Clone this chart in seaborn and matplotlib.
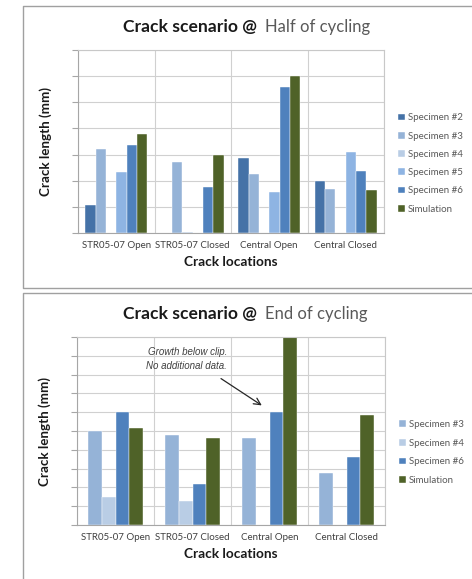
import pandas as pd
import seaborn as sns
import matplotlib.pyplot as plt
from matplotlib.lines import Line2D

locations = ["STR05-07 Open", "STR05-07 Closed", "Central Open", "Central Closed"]

# half of cycling (grid units, no y labels in the original)
half_series = ["Specimen #2", "Specimen #3", "Specimen #4", "Specimen #5", "Specimen #6", "Simulation"]
half_spec2 = [1.07, 0.0, 2.88, 1.97]
half_spec3 = [3.22, 2.70, 2.26, 1.69]
half_spec4 = [0.0, 0.02, 0.0, 0.0]
half_spec5 = [2.35, 0.0, 1.58, 3.10]
half_spec6 = [3.38, 1.77, 5.60, 2.37]
half_sim = [3.79, 2.99, 5.99, 1.64]

# end of cycling
end_series = ["Specimen #3", "Specimen #4", "Specimen #6", "Simulation"]
end_spec3 = [4.99, 4.78, 4.62, 2.79]
end_spec4 = [1.49, 1.28, 0.0, 0.0]
end_spec6 = [5.99, 2.20, 5.99, 3.60]
end_sim = [5.15, 4.65, 10.5, 5.86]

colors = {
    "Specimen #2": "#4572A7",
    "Specimen #3": "#95B3D7",
    "Specimen #4": "#B9CDE5",
    "Specimen #5": "#8EB4E3",
    "Specimen #6": "#4F81BD",
    "Simulation": "#4F6228",
}


def to_long(series, values):
    rows = []
    for name, vals in zip(series, values):
        for loc, v in zip(locations, vals):
            rows.append({"location": loc, "series": name, "length": v})
    return pd.DataFrame(rows)


half = to_long(half_series, [half_spec2, half_spec3, half_spec4, half_spec5, half_spec6, half_sim])
end = to_long(end_series, [end_spec3, end_spec4, end_spec6, end_sim])

sns.set_theme(style="white")
plt.rcParams["font.family"] = ["Lato", "DejaVu Sans"]

W, H = 472, 579
fig = plt.figure(figsize=(W / 100, H / 100), dpi=100)


def px_axes(left, top, right, bottom):
    return fig.add_axes([left / W, 1 - bottom / H, (right - left) / W, (bottom - top) / H])


def frame_line(xs, ys):
    # open polyline in pixel coords, runs off the picture on the right / bottom
    fig.add_artist(Line2D([x / W for x in xs], [1 - y / H for y in ys], transform=fig.transFigure,
                          color="#A0A0A0", linewidth=1))


def style_axes(ax, ymax, nlines):
    ax.set_xlim(-0.5, 3.5)
    ax.set_ylim(0, ymax)
    ax.set_yticks(range(nlines + 1))
    ax.set_yticklabels([])
    ax.set_xticks(range(4))
    ax.set_xticklabels(locations, fontsize=7, color="#404040")
    ax.set_xticks([-0.5, 0.5, 1.5, 2.5, 3.5], minor=True)
    ax.tick_params(axis="x", which="major", length=0, pad=6)
    ax.tick_params(axis="x", which="minor", length=4, color="#A6A6A6", width=0.8)
    ax.tick_params(axis="y", length=4, color="#A6A6A6", width=0.8, left=True)
    ax.grid(True, axis="y", color="#D0D0D0", linewidth=0.8)
    ax.grid(True, axis="x", which="minor", color="#D0D0D0", linewidth=0.8)
    ax.set_axisbelow(True)
    for s in ax.spines.values():
        s.set_color("#C8C8C8")
        s.set_linewidth(0.8)
    ax.spines["left"].set_color("#A6A6A6")
    ax.spines["bottom"].set_color("#A6A6A6")
    ax.set_xlabel("Crack locations", fontsize=9.8, fontweight="bold", color="#1a1a1a", labelpad=4)
    ax.set_ylabel("Crack length (mm)", fontsize=9.6, fontweight="bold", color="#1a1a1a", labelpad=11)


# frames
frame_line([480, 22.5, 22.5, 480], [5.5, 5.5, 288, 288])
frame_line([480, 22.5, 22.5], [292.5, 292.5, 590])

# top chart
ax1 = px_axes(78, 50, 384, 233)
sns.barplot(data=half, x="location", y="length", hue="series", hue_order=half_series,
            palette=colors, width=0.81, saturation=1, edgecolor="white", linewidth=0.3, ax=ax1)
style_axes(ax1, 7, 7)
h, l = ax1.get_legend_handles_labels()
ax1.get_legend().remove()
fig.legend(h, l, loc="center left", bbox_to_anchor=(398 / W, 1 - 163.5 / H), frameon=False,
           fontsize=7, labelcolor="#595959", handlelength=0.7, handleheight=0.7,
           handletextpad=0.3, labelspacing=0.95, borderpad=0, borderaxespad=0)

fig.text(257 / W, 1 - 27 / H, "Crack scenario @", ha="right", va="center",
         fontsize=12.6, fontweight="bold", color="#1a1a1a")
fig.text(265 / W, 1 - 27 / H, "Half of cycling", ha="left", va="center",
         fontsize=12, color="#595959")

# bottom chart
ax2 = px_axes(77, 337, 385, 525)
sns.barplot(data=end, x="location", y="length", hue="series", hue_order=end_series,
            palette=colors, width=0.72, saturation=1, edgecolor="white", linewidth=0.3, ax=ax2)
style_axes(ax2, 10, 10)
h, l = ax2.get_legend_handles_labels()
ax2.get_legend().remove()
fig.legend(h, l, loc="center left", bbox_to_anchor=(399 / W, 1 - 452.5 / H), frameon=False,
           fontsize=7, labelcolor="#595959", handlelength=0.7, handleheight=0.7,
           handletextpad=0.3, labelspacing=1.0, borderpad=0, borderaxespad=0)

ax2.text(1.45, 8.83, "Growth below clip.\nNo additional data.", ha="right", va="center",
         fontsize=7, style="italic", color="#404040", linespacing=1.5,
         family=["Liberation Sans", "DejaVu Sans"])
ax2.annotate("", xy=(1.93, 6.28), xytext=(1.34, 7.87),
             arrowprops=dict(arrowstyle="->", color="#262626", linewidth=0.9))

fig.text(257 / W, 1 - 314 / H, "Crack scenario @", ha="right", va="center",
         fontsize=12.6, fontweight="bold", color="#1a1a1a")
fig.text(265 / W, 1 - 314 / H, "End of cycling", ha="left", va="center",
         fontsize=12, color="#595959")

fig.savefig("out.png", dpi=100)
